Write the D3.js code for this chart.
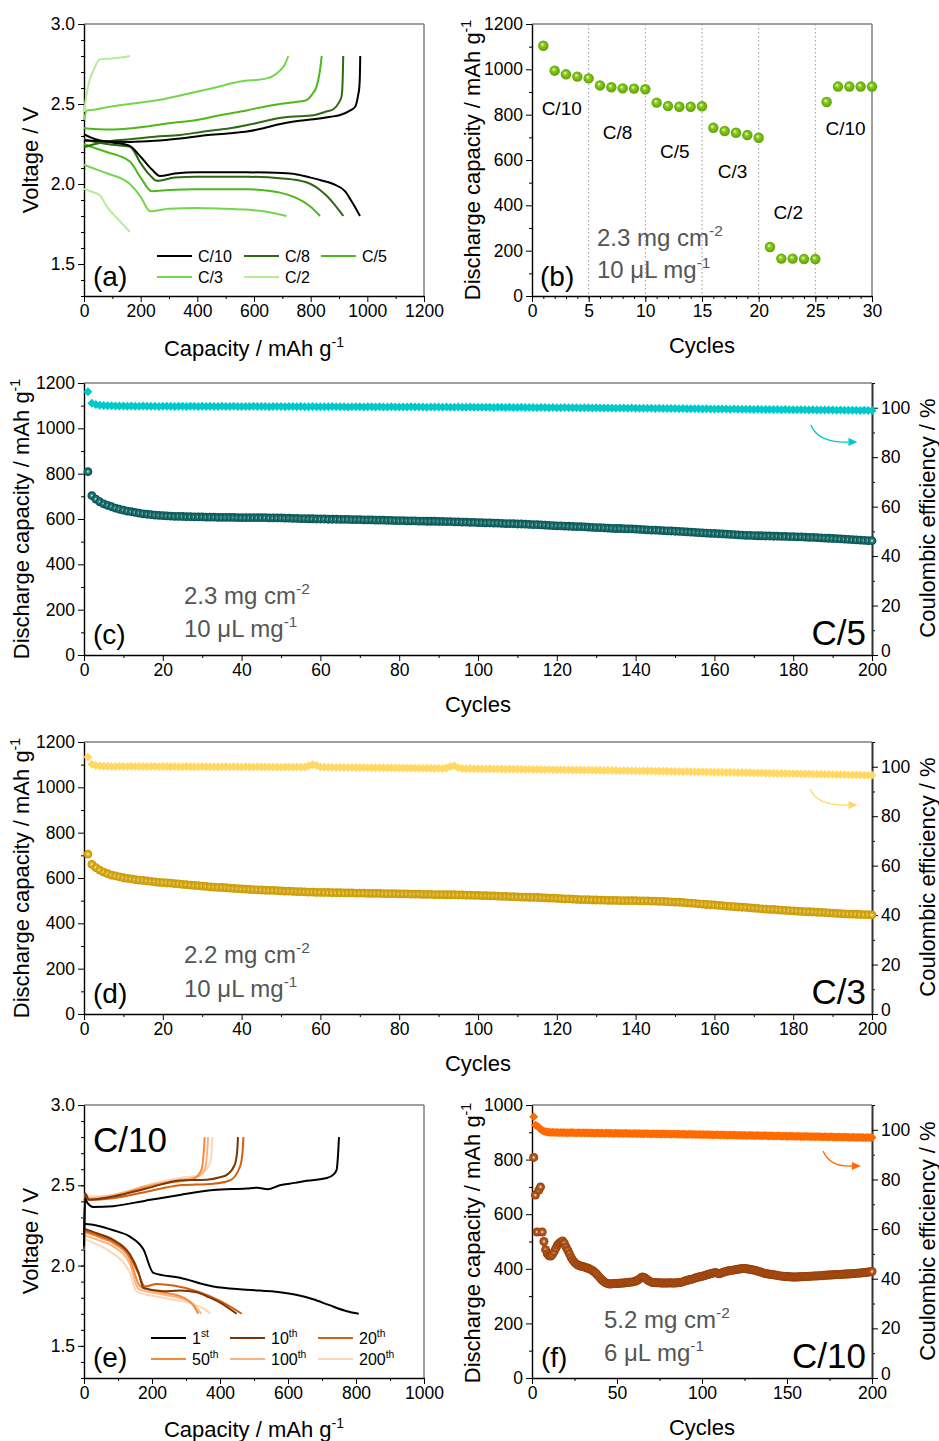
<!DOCTYPE html>
<html>
<head>
<meta charset="utf-8">
<script src="https://d3js.org/d3.v7.min.js"></script>
<style>
  body { margin: 0; background: #fff; }
  svg text { font-family: "Liberation Sans", Arial, sans-serif; }
</style>
</head>
<body>
<svg id="fig" width="939" height="1441"></svg>
<script>
// ---------- (a) voltage profiles at different rates : [capacity, voltage]
var c10Dis = [[0,2.31],[40,2.28],[100,2.26],[160,2.24],[200,2.17],[240,2.09],[268,2.05],[320,2.065],[400,2.073],[574,2.073],[700,2.068],[751,2.06],[800,2.04],[833,2.025],[880,2.0],[921,1.955],[945,1.89],[974,1.80]];
var c10Chg = [[0,2.27],[30,2.27],[100,2.265],[162,2.263],[250,2.27],[339,2.285],[430,2.305],[515,2.317],[580,2.33],[633,2.348],[680,2.37],[715,2.383],[760,2.395],[810,2.404],[870,2.42],[904,2.431],[940,2.46],[957,2.483],[967,2.55],[972,2.61],[974,2.70],[975,2.80]];
var c8Dis = [[0,2.28],[50,2.26],[100,2.245],[162,2.233],[200,2.13],[230,2.06],[257,2.02],[320,2.04],[398,2.045],[574,2.045],[700,2.035],[751,2.025],[800,2.0],[833,1.963],[860,1.92],[880,1.88],[915,1.80]];
var c8Chg = [[0,2.23],[40,2.25],[100,2.27],[162,2.28],[250,2.295],[339,2.306],[430,2.33],[515,2.348],[580,2.37],[633,2.39],[680,2.41],[727,2.42],[810,2.43],[850,2.45],[880,2.467],[900,2.51],[909,2.546],[913,2.65],[915,2.80]];
var c5Dis = [[0,2.25],[30,2.23],[80,2.20],[162,2.14],[200,2.04],[239,1.955],[300,1.962],[398,1.967],[574,1.967],[650,1.958],[692,1.946],[740,1.92],[774,1.89],[805,1.85],[833,1.80]];
var c5Chg = [[0,2.35],[20,2.345],[80,2.34],[221,2.36],[300,2.38],[398,2.40],[480,2.43],[574,2.46],[640,2.485],[692,2.50],[760,2.515],[786,2.525],[805,2.56],[821,2.61],[832,2.70],[839,2.80]];
var c3Dis = [[0,2.12],[30,2.10],[80,2.067],[162,2.00],[200,1.92],[233,1.83],[300,1.845],[398,1.85],[500,1.845],[574,1.84],[650,1.825],[715,1.80]];
var c3Chg = [[0,2.40],[10,2.46],[40,2.465],[80,2.48],[180,2.505],[280,2.53],[370,2.565],[457,2.60],[551,2.64],[645,2.66],[672,2.68],[692,2.71],[710,2.75],[721,2.80]];
var c2Dis = [[0,1.97],[30,1.95],[56,1.93],[80,1.86],[120,1.78],[162,1.70]];
var c2Chg = [[0,2.45],[8,2.55],[20,2.65],[33,2.71],[56,2.78],[100,2.785],[130,2.79],[162,2.80]];

// ---------- (b) rate capability, discharge capacity per cycle (cycles 1..30)
var rateCap = [1104,994,978,968,960,929,921,916,915,912,853,838,835,835,837,742,728,720,710,698,216,165,165,163,163,856,924,924,924,924];

// ---------- (c) C/5, 200 cycles
var cDis = [809,703,688,676,667,660,654,648,643,639,635,632,629,626,623,621,619,617,616,615,
  614,613,612,612,611,610,610,609,609,609,608,608,608,607,607,607,607,607,606,606,
  606,606,606,606,606,606,605,605,605,605,604,604,603,603,602,602,601,601,600,600,
  600,599,599,599,598,598,598,597,597,597,596,596,596,595,595,595,594,594,593,593,
  593,592,592,592,591,591,590,590,590,589,589,588,588,587,587,586,586,585,585,584,
  584,583,583,582,582,581,580,580,579,578,578,577,576,575,575,574,573,572,571,570,
  570,569,568,567,566,566,565,564,563,562,562,561,560,559,558,558,557,556,556,555,
  554,553,552,551,551,550,549,548,547,546,545,544,543,542,541,540,539,538,537,536,
  535,534,533,532,531,530,529,528,528,527,526,526,525,525,524,524,523,523,522,522,
  521,521,520,519,519,518,517,516,515,514,513,512,511,510,509,508,507,506,505,504];
var cCE = [106.5,101.8,101.3,101.0,100.9,100.8,100.8,100.7,100.7,100.7,100.6,100.7,100.6,100.6,100.7,100.6,100.6,100.6,100.5,100.6,
  100.6,100.6,100.5,100.6,100.6,100.5,100.6,100.6,100.5,100.6,100.5,100.6,100.5,100.5,100.6,100.5,100.5,100.6,100.5,100.5,
  100.5,100.5,100.6,100.5,100.5,100.5,100.4,100.5,100.5,100.5,100.4,100.5,100.5,100.4,100.5,100.4,100.4,100.5,100.4,100.4,
  100.4,100.4,100.5,100.4,100.4,100.4,100.3,100.4,100.4,100.4,100.3,100.4,100.4,100.3,100.4,100.3,100.3,100.4,100.3,100.3,
  100.3,100.3,100.4,100.3,100.3,100.3,100.2,100.3,100.3,100.3,100.2,100.3,100.2,100.2,100.3,100.2,100.2,100.3,100.2,100.2,
  100.2,100.2,100.2,100.1,100.2,100.2,100.1,100.2,100.1,100.1,100.2,100.1,100.1,100.1,100.0,100.1,100.1,100.0,100.1,100.0,
  100.0,100.1,100.0,100.0,100.0,99.9,100.0,100.0,99.9,100.0,99.9,99.9,99.9,99.9,99.8,99.9,99.9,99.8,99.9,99.8,
  99.8,99.8,99.8,99.8,99.7,99.8,99.7,99.7,99.7,99.7,99.6,99.7,99.6,99.6,99.6,99.6,99.5,99.6,99.5,99.5,
  99.5,99.5,99.5,99.4,99.5,99.4,99.4,99.4,99.4,99.3,99.4,99.3,99.3,99.3,99.3,99.3,99.2,99.3,99.2,99.2,
  99.2,99.2,99.2,99.1,99.2,99.1,99.1,99.1,99.1,99.1,99.0,99.1,99.0,99.0,99.0,99.0,98.9,99.0,98.9,98.9];

// ---------- (d) C/3, 200 cycles
var dDis = [705,660,646,635,626,619,613,609,605,601,598,596,593,591,589,587,585,583,581,580,
  578,577,575,574,572,571,569,567,566,564,563,561,560,559,558,557,555,554,553,552,
  551,550,549,548,547,546,545,545,544,543,542,542,541,540,540,539,538,538,537,537,
  536,536,535,535,535,534,534,534,533,533,533,532,532,532,532,531,531,531,531,530,
  530,530,529,529,529,528,528,528,527,527,527,526,526,526,525,525,524,524,523,523,
  522,522,521,521,520,519,519,518,518,517,516,516,515,514,514,513,512,511,511,510,
  509,508,508,507,506,505,505,504,503,503,502,502,501,501,501,500,500,500,500,500,
  499,499,499,498,498,497,497,496,495,494,493,492,490,489,488,486,485,483,482,481,
  479,478,476,475,474,472,471,470,468,467,466,464,463,462,461,459,458,457,456,455,
  454,453,452,451,450,449,448,447,446,445,444,443,442,441,441,440,439,438,438,437];
var dCE = [103.9,101.0,100.5,100.3,100.2,100.2,100.1,100.1,100.2,100.1,100.1,100.2,100.1,100.1,100.1,100.0,100.1,100.1,100.0,100.1,
  100.1,100.0,100.1,100.0,100.0,100.1,100.0,100.0,100.0,100.1,100.0,100.0,100.0,99.9,100.0,100.0,99.9,100.0,100.0,99.9,
  100.0,99.9,99.9,100.0,99.9,99.9,99.9,99.9,99.9,99.8,99.9,99.9,99.8,99.9,99.8,99.9,100.3,100.8,100.5,99.9,
  99.8,99.8,99.8,99.7,99.8,99.7,99.7,99.7,99.7,99.6,99.7,99.6,99.6,99.6,99.6,99.6,99.5,99.6,99.5,99.5,
  99.5,99.5,99.4,99.5,99.4,99.4,99.4,99.4,99.3,99.4,99.3,99.5,100.1,100.4,99.6,99.3,99.2,99.3,99.2,99.2,
  99.2,99.1,99.2,99.1,99.1,99.1,99.0,99.1,99.0,99.0,99.0,98.9,99.0,98.9,98.9,98.9,98.8,98.9,98.8,98.8,
  98.8,98.7,98.8,98.7,98.7,98.7,98.6,98.7,98.6,98.6,98.6,98.5,98.6,98.5,98.5,98.4,98.5,98.4,98.4,98.4,
  98.3,98.4,98.3,98.3,98.2,98.3,98.2,98.2,98.1,98.1,98.1,98.0,98.1,98.0,98.0,97.9,98.0,97.9,97.9,97.8,
  97.8,97.8,97.7,97.8,97.7,97.6,97.7,97.6,97.6,97.5,97.5,97.5,97.4,97.4,97.4,97.3,97.3,97.3,97.2,97.2,
  97.2,97.1,97.1,97.1,97.0,97.0,97.0,96.9,96.9,96.9,96.8,96.8,96.8,96.7,96.7,96.7,96.7,96.6,96.6,96.6];

// ---------- (e) C/10 high loading, voltage profiles of selected cycles
var e1Dis = [[0,2.26],[37,2.25],[86,2.22],[135,2.18],[175,2.10],[204,1.955],[282,1.924],[380,1.87],[478,1.85],[576,1.834],[630,1.815],[674,1.79],[720,1.755],[773,1.716],[808,1.70]];
var e1Chg = [[0,2.12],[3,2.42],[10,2.39],[27,2.365],[86,2.37],[184,2.406],[282,2.44],[380,2.47],[478,2.48],[510,2.485],[540,2.475],[576,2.50],[620,2.515],[655,2.528],[714,2.545],[735,2.57],[743,2.596],[748,2.72],[750,2.80]];
var e10Dis = [[0,2.23],[40,2.20],[86,2.16],[135,2.07],[160,1.96],[175,1.86],[233,1.84],[282,1.845],[331,1.834],[370,1.80],[400,1.77],[449,1.70]];
var e10Chg = [[0,2.10],[3,2.45],[15,2.41],[86,2.43],[184,2.48],[282,2.53],[361,2.535],[400,2.55],[420,2.565],[443,2.625],[450,2.70],[453,2.80]];
var e20Dis = [[0,2.22],[40,2.19],[86,2.15],[135,2.06],[160,1.95],[179,1.87],[214,1.886],[263,1.876],[331,1.84],[400,1.78],[464,1.70]];
var e20Chg = [[0,2.10],[3,2.44],[15,2.41],[86,2.42],[184,2.46],[282,2.50],[380,2.51],[429,2.53],[459,2.617],[466,2.70],[469,2.80]];
var e50Dis = [[0,2.21],[40,2.18],[86,2.14],[135,2.04],[165,1.87],[214,1.84],[282,1.81],[322,1.75],[336,1.70]];
var e50Chg = [[0,2.10],[3,2.43],[15,2.41],[86,2.43],[184,2.49],[263,2.52],[322,2.54],[346,2.60],[352,2.70],[355,2.80]];
var e100Dis = [[0,2.19],[40,2.16],[86,2.12],[135,2.01],[160,1.855],[233,1.82],[306,1.78],[330,1.74],[345,1.70]];
var e100Chg = [[0,2.10],[3,2.44],[15,2.42],[86,2.44],[184,2.495],[263,2.53],[330,2.55],[355,2.60],[362,2.70],[365,2.80]];
var e200Dis = [[0,2.17],[30,2.14],[67,2.10],[135,1.955],[154,1.84],[233,1.80],[322,1.76],[350,1.735],[372,1.70]];
var e200Chg = [[0,2.10],[3,2.45],[15,2.43],[86,2.44],[184,2.50],[282,2.545],[339,2.565],[369,2.63],[375,2.70],[378,2.80]];

// ---------- (f) C/10 high loading, 200 cycles
var fDis = [808,670,535,688,700,535,500,470,455,448,447,452,462,475,487,494,498,502,494,480,
  468,455,442,432,424,418,414,411,409,408,406,404,402,399,396,392,387,381,374,367,
  360,355,350,347,345,344,345,346,346,346,347,347,348,348,349,350,351,351,352,353,
  355,358,362,367,370,368,364,359,355,352,350,350,349,349,349,348,348,348,348,348,
  349,348,348,348,349,349,350,351,353,355,357,359,361,362,364,366,368,370,371,373,
  374,376,378,380,382,384,385,386,384,382,383,386,388,390,392,393,394,395,396,397,
  398,399,400,401,401,400,399,398,397,396,395,393,391,389,387,385,383,382,381,380,
  379,378,377,376,375,374,373,373,372,372,371,371,370,370,370,370,371,371,371,372,
  372,372,373,373,373,374,374,374,375,375,375,376,376,377,377,377,378,378,379,379,
  379,380,380,381,381,381,382,382,383,383,384,384,385,385,386,386,387,388,389,390];
var fCE = [105.3,101.9,101.6,100.9,100.2,99.8,99.4,99.2,99.1,99.0,98.9,99.0,98.9,98.9,98.9,98.8,98.9,98.8,98.9,98.8,
  98.8,98.8,98.9,98.8,98.8,98.7,98.8,98.8,98.7,98.8,98.7,98.8,98.7,98.7,98.7,98.7,98.6,98.7,98.7,98.6,
  98.7,98.6,98.6,98.7,98.6,98.6,98.6,98.5,98.6,98.6,98.5,98.6,98.5,98.5,98.6,98.5,98.5,98.5,98.4,98.5,
  98.5,98.4,98.5,98.4,98.4,98.4,98.5,98.4,98.4,98.3,98.4,98.4,98.3,98.4,98.3,98.3,98.4,98.3,98.3,98.3,
  98.3,98.2,98.3,98.3,98.2,98.3,98.2,98.2,98.2,98.2,98.1,98.2,98.2,98.1,98.2,98.1,98.1,98.1,98.1,98.0,
  98.1,98.0,98.1,98.0,98.0,98.0,97.9,98.0,98.0,97.9,97.9,98.0,97.9,97.9,97.8,97.9,97.9,97.8,97.9,97.8,
  97.8,97.8,97.8,97.7,97.8,97.7,97.7,97.8,97.7,97.7,97.6,97.7,97.7,97.6,97.6,97.6,97.7,97.6,97.5,97.6,
  97.6,97.5,97.5,97.5,97.6,97.5,97.4,97.5,97.5,97.4,97.4,97.5,97.4,97.4,97.3,97.4,97.4,97.3,97.3,97.3,
  97.4,97.3,97.3,97.2,97.3,97.2,97.2,97.3,97.2,97.2,97.1,97.2,97.2,97.1,97.1,97.2,97.1,97.1,97.0,97.1,
  97.1,97.0,97.0,97.1,97.0,97.0,96.9,97.0,97.0,96.9,96.9,97.0,96.9,96.9,96.9,96.8,96.9,96.9,96.8,96.9];

// tick values
var voltTicks = [1.5, 2.0, 2.5, 3.0];
var rateCycleTicks = [0, 5, 10, 15, 20, 25, 30];
var rateSwitch = [5, 10, 15, 20, 25];
var capTicks1200 = [0, 200, 400, 600, 800, 1000, 1200];
var longCycleTicks = [0, 20, 40, 60, 80, 100, 120, 140, 160, 180, 200];
var ceTicks = [0, 20, 40, 60, 80, 100];
var fCycleTicks = [0, 50, 100, 150, 200];
var fCapTicks = [0, 200, 400, 600, 800, 1000];
var eCapTicks = [0, 200, 400, 600, 800, 1000];

var svg = d3.select("#fig");
var defs = svg.append("defs");

function ballGrad(id, inner, mid, outer, fx, fy) {
  var g = defs.append("radialGradient").attr("id", id)
    .attr("cx", "50%").attr("cy", "50%").attr("r", "50%")
    .attr("fx", fx).attr("fy", fy);
  g.append("stop").attr("offset", "0%").attr("stop-color", inner);
  g.append("stop").attr("offset", "35%").attr("stop-color", mid);
  g.append("stop").attr("offset", "100%").attr("stop-color", outer);
}
ballGrad("gGreen", "#f2ffe0", "#8ccf1e", "#5d9e06", "38%", "35%");
ballGrad("gTeal", "#ffffff", "#2f8080", "#004c4c", "50%", "50%");
ballGrad("gGold", "#ffffff", "#ddb42a", "#c79600", "50%", "50%");
ballGrad("gBrown", "#ffffff", "#b9632a", "#963c06", "50%", "50%");

function range(a, b, s) { return d3.range(a, b + s / 2, s); }

// axes for one panel
function axes(box, xs, ys, o) {
  var g = svg.append("g");
  // frame top / right (gray) when no right axis
  g.append("line").attr("x1", box.x0).attr("x2", box.x1).attr("y1", box.y0).attr("y2", box.y0)
    .attr("stroke", "#7f7f7f").attr("stroke-width", 1.5);
  if (!o.y2) {
    g.append("line").attr("x1", box.x1).attr("x2", box.x1).attr("y1", box.y0).attr("y2", box.y1)
      .attr("stroke", "#7f7f7f").attr("stroke-width", 1.5);
  }
  var gx = g.append("g").attr("transform", "translate(0," + box.y1 + ")");
  gx.call(d3.axisBottom(xs).tickValues(o.xMinor).tickSize(3).tickSizeOuter(0).tickFormat(""));
  gx.select(".domain").remove();
  var gx2 = g.append("g").attr("transform", "translate(0," + box.y1 + ")");
  gx2.call(d3.axisBottom(xs).tickValues(o.xMajor).tickSize(6).tickSizeOuter(0).tickPadding(3).tickFormat(o.xFmt || d3.format("d")));

  var gy = g.append("g").attr("transform", "translate(" + box.x0 + ",0)");
  gy.call(d3.axisLeft(ys).tickValues(o.yMinor).tickSize(3).tickSizeOuter(0).tickFormat(""));
  gy.select(".domain").remove();
  var gy2 = g.append("g").attr("transform", "translate(" + box.x0 + ",0)");
  gy2.call(d3.axisLeft(ys).tickValues(o.yMajor).tickSize(6).tickSizeOuter(0).tickPadding(3).tickFormat(o.yFmt || d3.format("d")));

  if (o.y2) {
    var gr = g.append("g").attr("transform", "translate(" + box.x1 + ",0)");
    gr.call(d3.axisRight(o.y2).tickValues(range(10, 110, 20)).tickSize(3).tickSizeOuter(0).tickFormat(""));
    gr.select(".domain").remove();
    var gr2 = g.append("g").attr("transform", "translate(" + box.x1 + ",0)");
    gr2.call(d3.axisRight(o.y2).tickValues(ceTicks).tickSize(6).tickSizeOuter(0).tickPadding(3).tickFormat(d3.format("d")));
    gr2.select(".domain").attr("stroke", "#333").attr("stroke-width", 2);
    // lift the "0" label a touch so it does not sit on the bottom "200"
    gr2.selectAll(".tick text").filter(function (d) { return d === 0; }).attr("dy", "0.1em");
  }
  g.selectAll(".tick line").attr("stroke", "#000");
  g.selectAll(".tick text").attr("font-size", 17.5).attr("fill", "#000");
  gx2.select(".domain").attr("stroke-width", 1.4);
  gy2.select(".domain").attr("stroke-width", 1.4);
  return g;
}

// text with optional superscripts: parts = [[str, isSup], ...]
function rich(x, y, parts, size, opt) {
  opt = opt || {};
  var t = svg.append("text").attr("x", x).attr("y", y).attr("font-size", size)
    .style("fill", opt.color || "#000");
  if (opt.anchor) t.attr("text-anchor", opt.anchor);
  if (opt.rotate) t.attr("transform", "rotate(-90," + x + "," + y + ")");
  var up = false;
  parts.forEach(function (p) {
    var s = t.append("tspan").text(p[0]);
    if (p[1] && !up) { s.attr("font-size", size * 0.64).attr("dy", -size * 0.42); up = true; }
    else if (!p[1] && up) { s.attr("dy", size * 0.42); up = false; }
  });
  return t;
}

function curvedArrow(xs, ys, a, color) {
  var p0 = [xs(a[0]), ys(a[1])], p1 = [xs(a[2]), ys(a[3])];
  var e = [p1[0] - 9, p1[1]];
  svg.append("path")
    .attr("d", "M" + p0[0] + "," + p0[1] + " Q" + (p0[0] + 7) + "," + (p1[1] + 1) + " " + e[0] + "," + e[1])
    .attr("fill", "none").attr("stroke", color).attr("stroke-width", 1.4);
  svg.append("path")
    .attr("d", "M" + p1[0] + "," + p1[1] + " L" + e[0] + "," + (e[1] - 4) + " L" + e[0] + "," + (e[1] + 4) + " Z")
    .attr("fill", color);
}

var diamond = d3.symbol(d3.symbolSquare, 40);

function longCycling(box, yMax, xMaxCycle, xMajor, xMinor, yMajor, dis, ce, colors, r) {
  var xs = d3.scaleLinear().domain([0, xMaxCycle]).range([box.x0, box.x1]);
  var ys = d3.scaleLinear().domain([0, yMax]).range([box.y1, box.y0]);
  var y2 = d3.scaleLinear().domain([0, 110]).range([box.y1, box.y0]);
  axes(box, xs, ys, {xMajor: xMajor, xMinor: xMinor, yMajor: yMajor, yMinor: range(100, yMax, 200), y2: y2});
  svg.append("g").selectAll("path").data(ce).join("path")
    .attr("transform", function (d, i) { return "translate(" + xs(i + 1) + "," + y2(d) + ") rotate(45)"; })
    .attr("d", diamond).attr("fill", colors.ce);
  svg.append("g").selectAll("circle").data(dis).join("circle")
    .attr("cx", function (d, i) { return xs(i + 1); })
    .attr("cy", function (d) { return ys(d); })
    .attr("r", r).attr("fill", colors.dis);
  return {xs: xs, ys: ys, y2: y2};
}

function profiles(xs, ys, curves) {
  var ln = d3.line().curve(d3.curveMonotoneX)
    .x(function (d) { return xs(d[0]); }).y(function (d) { return ys(d[1]); });
  curves.forEach(function (c) {
    svg.append("path").attr("d", ln(c.pts)).attr("fill", "none")
      .attr("stroke", c.color).attr("stroke-width", 2);
  });
}

// ================= (a)
var boxA = {x0: 84, x1: 424, y0: 24, y1: 296};
var xA = d3.scaleLinear().domain([0, 1200]).range([boxA.x0, boxA.x1]);
var yA = d3.scaleLinear().domain([1.3, 3.0]).range([boxA.y1, boxA.y0]);
axes(boxA, xA, yA, {xMajor: capTicks1200, xMinor: range(100, 1100, 200), yMajor: voltTicks,
  yMinor: range(1.3, 3.0, 0.1), yFmt: d3.format(".1f")});
var rateColors = {c10: "#000000", c8: "#2e6a10", c5: "#4cb91b", c3: "#74d64c", c2: "#b6ec98"};
profiles(xA, yA, [
  {pts: c2Dis, color: rateColors.c2}, {pts: c2Chg, color: rateColors.c2},
  {pts: c3Dis, color: rateColors.c3}, {pts: c3Chg, color: rateColors.c3},
  {pts: c5Dis, color: rateColors.c5}, {pts: c5Chg, color: rateColors.c5},
  {pts: c8Dis, color: rateColors.c8}, {pts: c8Chg, color: rateColors.c8},
  {pts: c10Dis, color: rateColors.c10}, {pts: c10Chg, color: rateColors.c10}
]);
var legA = [
  {t: "C/10", c: rateColors.c10, col: 0, row: 0}, {t: "C/8", c: rateColors.c8, col: 1, row: 0},
  {t: "C/5", c: rateColors.c5, col: 2, row: 0}, {t: "C/3", c: rateColors.c3, col: 0, row: 1},
  {t: "C/2", c: rateColors.c2, col: 1, row: 1}
];
var legColX = [157, 244, 321];
legA.forEach(function (l) {
  var x = legColX[l.col], y = 256 + l.row * 21;
  svg.append("line").attr("x1", x).attr("x2", x + 35).attr("y1", y).attr("y2", y)
    .attr("stroke", l.c).attr("stroke-width", 2);
  svg.append("text").attr("x", x + 41).attr("y", y + 6).attr("font-size", 16).text(l.t);
});
rich(93, 286, [["(a)"]], 28);
rich(254, 356, [["Capacity / mAh g"], ["-1", 1]], 22, {anchor: "middle"});
rich(38, 160, [["Voltage / V"]], 22, {anchor: "middle", rotate: true});

// ================= (b)
var boxB = {x0: 532, x1: 872, y0: 24, y1: 296};
var xB = d3.scaleLinear().domain([0, 30]).range([boxB.x0, boxB.x1]);
var yB = d3.scaleLinear().domain([0, 1200]).range([boxB.y1, boxB.y0]);
svg.append("g").selectAll("line").data(rateSwitch).join("line")
  .attr("x1", function (d) { return xB(d); }).attr("x2", function (d) { return xB(d); })
  .attr("y1", boxB.y0).attr("y2", boxB.y1)
  .attr("stroke", "#9a9a9a").attr("stroke-width", 1).attr("stroke-dasharray", "1.5,2.5");
axes(boxB, xB, yB, {xMajor: rateCycleTicks, xMinor: range(1, 29, 1), yMajor: capTicks1200, yMinor: range(100, 1100, 200)});
svg.append("g").selectAll("circle").data(rateCap).join("circle")
  .attr("cx", function (d, i) { return xB(i + 1); })
  .attr("cy", function (d) { return yB(d); })
  .attr("r", 5.2).attr("fill", "url(#gGreen)");
var rateLabels = [
  {t: "C/10", c: 0.85, v: 800}, {t: "C/8", c: 6.25, v: 692}, {t: "C/5", c: 11.3, v: 608},
  {t: "C/3", c: 16.4, v: 520}, {t: "C/2", c: 21.3, v: 340}, {t: "C/10", c: 25.9, v: 710}
];
rateLabels.forEach(function (l) {
  svg.append("text").attr("x", xB(l.c)).attr("y", yB(l.v)).attr("font-size", 19).text(l.t);
});
rich(597, 246, [["2.3 mg cm"], ["-2", 1]], 24, {color: "#555"});
rich(597, 278, [["10 \u03bcL mg"], ["-1", 1]], 24, {color: "#555"});
rich(540, 286, [["(b)"]], 28);
rich(702, 353, [["Cycles"]], 22, {anchor: "middle"});
rich(480, 160, [["Discharge capacity / mAh g"], ["-1", 1]], 22, {anchor: "middle", rotate: true});

// ================= (c)
var boxC = {x0: 84, x1: 872, y0: 383, y1: 655};
var pc = longCycling(boxC, 1200, 200, longCycleTicks, range(10, 190, 20), capTicks1200, cDis, cCE,
  {ce: "#00c9c9", dis: "url(#gTeal)"}, 4.4);
curvedArrow(pc.xs, pc.y2, [184.5, 93.0, 196.3, 86.1], "#00c9c9");
rich(184, 604, [["2.3 mg cm"], ["-2", 1]], 24, {color: "#555"});
rich(184, 637, [["10 \u03bcL mg"], ["-1", 1]], 24, {color: "#555"});
rich(93, 644, [["(c)"]], 28);
rich(866, 645, [["C/5"]], 35, {anchor: "end"});
rich(478, 712, [["Cycles"]], 22, {anchor: "middle"});
rich(29, 519, [["Discharge capacity / mAh g"], ["-1", 1]], 22, {anchor: "middle", rotate: true});
rich(935, 518, [["Coulombic efficiency / %"]], 22, {anchor: "middle", rotate: true});

// ================= (d)
var boxD = {x0: 84, x1: 872, y0: 742, y1: 1014};
var pd = longCycling(boxD, 1200, 200, longCycleTicks, range(10, 190, 20), capTicks1200, dDis, dCE,
  {ce: "#ffd866", dis: "url(#gGold)"}, 4.4);
curvedArrow(pd.xs, pd.y2, [184.3, 91.0, 196.3, 84.5], "#ffd866");
rich(184, 963, [["2.2 mg cm"], ["-2", 1]], 24, {color: "#555"});
rich(184, 997, [["10 \u03bcL mg"], ["-1", 1]], 24, {color: "#555"});
rich(93, 1003, [["(d)"]], 28);
rich(866, 1004, [["C/3"]], 35, {anchor: "end"});
rich(478, 1071, [["Cycles"]], 22, {anchor: "middle"});
rich(29, 878, [["Discharge capacity / mAh g"], ["-1", 1]], 22, {anchor: "middle", rotate: true});
rich(935, 877, [["Coulombic efficiency / %"]], 22, {anchor: "middle", rotate: true});

// ================= (e)
var boxE = {x0: 84, x1: 424, y0: 1105, y1: 1378};
var xE = d3.scaleLinear().domain([0, 1000]).range([boxE.x0, boxE.x1]);
var yE = d3.scaleLinear().domain([1.3, 3.0]).range([boxE.y1, boxE.y0]);
axes(boxE, xE, yE, {xMajor: eCapTicks, xMinor: range(100, 900, 200), yMajor: voltTicks,
  yMinor: range(1.3, 3.0, 0.1), yFmt: d3.format(".1f")});
var cycColors = {c1: "#000000", c10: "#7b3606", c20: "#d35f10", c50: "#f58a3c", c100: "#f9b47e", c200: "#fcd7ba"};
profiles(xE, yE, [
  {pts: e200Dis, color: cycColors.c200}, {pts: e200Chg, color: cycColors.c200},
  {pts: e100Dis, color: cycColors.c100}, {pts: e100Chg, color: cycColors.c100},
  {pts: e50Dis, color: cycColors.c50}, {pts: e50Chg, color: cycColors.c50},
  {pts: e20Dis, color: cycColors.c20}, {pts: e20Chg, color: cycColors.c20},
  {pts: e10Dis, color: cycColors.c10}, {pts: e10Chg, color: cycColors.c10},
  {pts: e1Dis, color: cycColors.c1}, {pts: e1Chg, color: cycColors.c1}
]);
var legE = [
  {n: "1", s: "st", c: cycColors.c1}, {n: "10", s: "th", c: cycColors.c10}, {n: "20", s: "th", c: cycColors.c20},
  {n: "50", s: "th", c: cycColors.c50}, {n: "100", s: "th", c: cycColors.c100}, {n: "200", s: "th", c: cycColors.c200}
];
var legEX = [151, 230, 318];
legE.forEach(function (l, i) {
  var x = legEX[i % 3], y = 1338 + Math.floor(i / 3) * 21;
  svg.append("line").attr("x1", x).attr("x2", x + 35).attr("y1", y).attr("y2", y)
    .attr("stroke", l.c).attr("stroke-width", 2);
  rich(x + 41, y + 6, [[l.n], [l.s, 1]], 16);
});
rich(93, 1152, [["C/10"]], 35);
rich(93, 1367, [["(e)"]], 28);
rich(254, 1437, [["Capacity / mAh g"], ["-1", 1]], 22, {anchor: "middle"});
rich(38, 1241, [["Voltage / V"]], 22, {anchor: "middle", rotate: true});

// ================= (f)
var boxF = {x0: 532, x1: 872, y0: 1105, y1: 1378};
var pf = longCycling(boxF, 1000, 200, fCycleTicks, range(25, 175, 50), fCapTicks, fDis, fCE,
  {ce: "#ff6a00", dis: "url(#gBrown)"}, 4.5);
curvedArrow(pf.xs, pf.y2, [171.2, 91.5, 193.5, 85.4], "#ff6a00");
rich(604, 1328, [["5.2 mg cm"], ["-2", 1]], 24, {color: "#555"});
rich(604, 1361, [["6 \u03bcL mg"], ["-1", 1]], 24, {color: "#555"});
rich(541, 1367, [["(f)"]], 28);
rich(866, 1368, [["C/10"]], 35, {anchor: "end"});
rich(702, 1435, [["Cycles"]], 22, {anchor: "middle"});
rich(480, 1243, [["Discharge capacity / mAh g"], ["-1", 1]], 22, {anchor: "middle", rotate: true});
rich(935, 1241, [["Coulombic efficiency / %"]], 22, {anchor: "middle", rotate: true});
</script>
</body>
</html>
